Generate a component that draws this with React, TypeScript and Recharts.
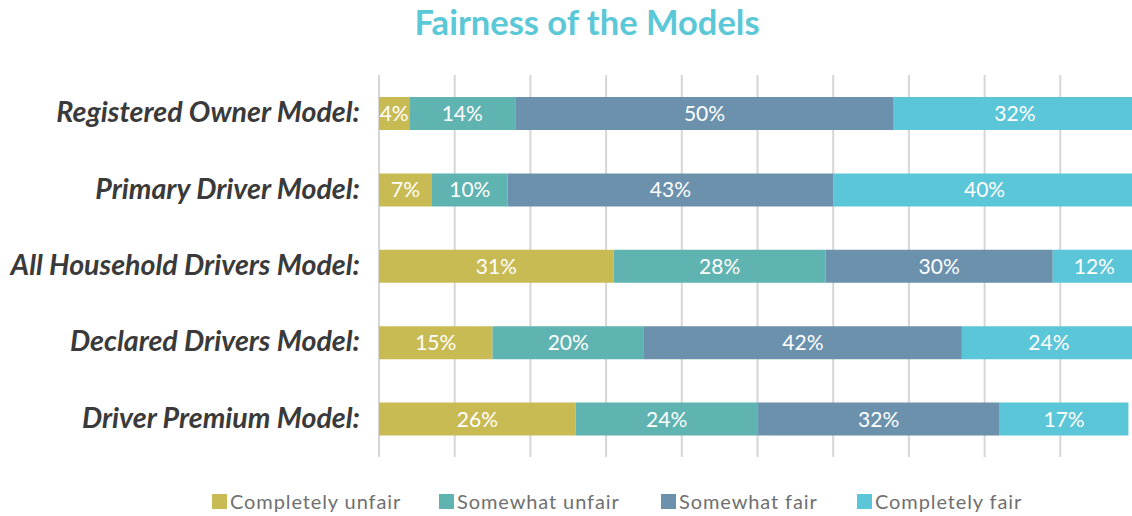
import { Bar, BarChart, CartesianGrid, LabelList, XAxis, YAxis } from 'recharts';

const models = [
    'Registered Owner Model:',
    'Primary Driver Model:',
    'All Household Drivers Model:',
    'Declared Drivers Model:',
    'Driver Premium Model:',
];

const completelyUnfair = [4, 7, 31, 15, 26];
const somewhatUnfair = [14, 10, 28, 20, 24];
const somewhatFair = [50, 43, 30, 42, 32];
const completelyFair = [32, 40, 12, 24, 17];

const xTicks = [0, 10, 20, 30, 40, 50, 60, 70, 80, 90, 100];

const series = [
    { key: 'cu', name: 'Completely unfair', color: '#c9bb53', left: 212 },
    { key: 'su', name: 'Somewhat unfair', color: '#5fb3b0', left: 439 },
    { key: 'sf', name: 'Somewhat fair', color: '#6b91ad', left: 661 },
    { key: 'cf', name: 'Completely fair', color: '#5bc6d8', left: 857 },
];

const data = models.map((model, i) => ({
    model,
    cu: completelyUnfair[i],
    su: somewhatUnfair[i],
    sf: somewhatFair[i],
    cf: completelyFair[i],
}));

const FONT = 'Lato, "Open Sans", sans-serif';

const ModelTick = ({ x, y, payload }: any) => (
    <text
        x={x}
        y={y}
        dy={9}
        textAnchor="end"
        fontFamily={FONT}
        fontSize={28.6}
        fontWeight={700}
        fontStyle="italic"
        fill="#3a3a3a"
    >
        {payload.value}
    </text>
);

const App = () => {
    return (
        <div
            style={{
                position: 'fixed',
                left: 0,
                top: 0,
                width: 1132,
                height: 516,
                overflow: 'hidden',
                background: '#fff',
                fontFamily: FONT,
            }}
        >
            {/* title */}
            <div
                style={{
                    position: 'absolute',
                    left: 0,
                    top: 1,
                    width: 1174,
                    textAlign: 'center',
                    fontSize: 34.5,
                    fontWeight: 700,
                    color: '#5bc8d8',
                }}
            >
                Fairness of the Models
            </div>

            <div style={{ position: 'absolute', left: 0, top: 0 }}>
                <BarChart
                    width={1150}
                    height={516}
                    data={data}
                    layout="vertical"
                    margin={{ top: 75, right: 14, bottom: 59, left: 0 }}
                    barSize={33}
                >
                    <CartesianGrid
                        horizontal={false}
                        stroke="#d6d6d6"
                        strokeWidth={2}
                    />
                    <XAxis
                        type="number"
                        domain={[0, 100]}
                        ticks={xTicks}
                        allowDataOverflow
                        hide
                    />
                    <YAxis
                        type="category"
                        dataKey="model"
                        width={379}
                        axisLine={false}
                        tickLine={false}
                        tickSize={0}
                        tickMargin={19}
                        tick={<ModelTick />}
                        interval={0}
                    />
                    {series.map((s) => (
                        <Bar
                            key={s.key}
                            dataKey={s.key}
                            name={s.name}
                            stackId="a"
                            fill={s.color}
                            isAnimationActive={false}
                        >
                            <LabelList
                                dataKey={s.key}
                                position="center"
                                fill="#ffffff"
                                fontSize={21}
                                fontFamily={FONT}
                                formatter={(v: any) => `${v}%`}
                            />
                        </Bar>
                    ))}
                </BarChart>
            </div>

            {/* legend */}
            {series.map((s) => (
                <div
                    key={s.key}
                    style={{
                        position: 'absolute',
                        left: s.left,
                        top: 489,
                        display: 'flex',
                        alignItems: 'center',
                        gap: 3,
                        fontSize: 20,
                        letterSpacing: 0.9,
                        color: '#707070',
                        whiteSpace: 'nowrap',
                    }}
                >
                    <span
                        style={{
                            width: 15,
                            height: 15,
                            background: s.color,
                            display: 'inline-block',
                        }}
                    />
                    <span>{s.name}</span>
                </div>
            ))}
        </div>
    );
};

export default App;
